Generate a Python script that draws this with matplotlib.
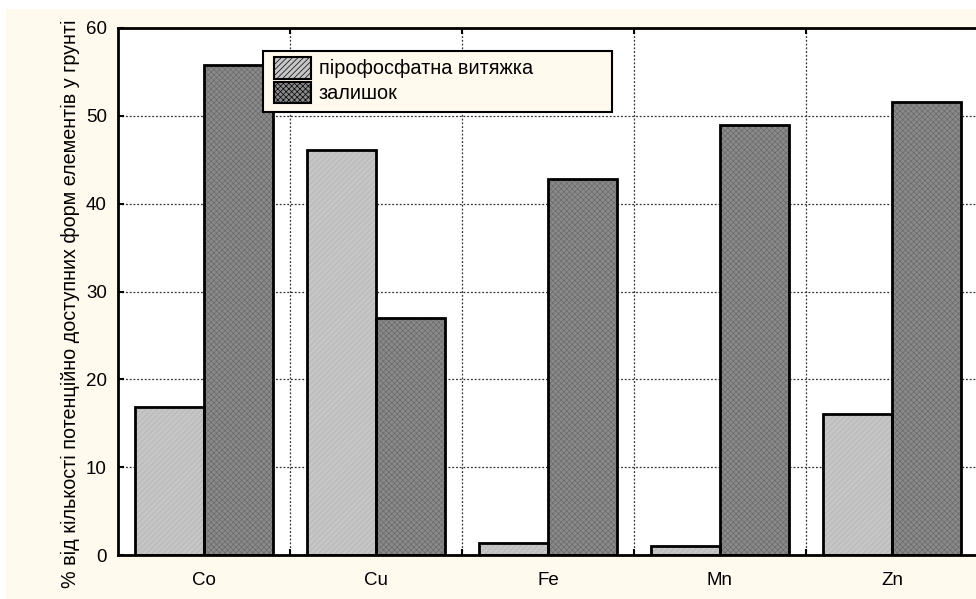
import numpy as np
import matplotlib
matplotlib.use("Agg")
import matplotlib.pyplot as plt
from matplotlib.patches import Rectangle, Patch

plt.rcParams['font.family'] = ['Liberation Sans', 'DejaVu Sans']
plt.rcParams['hatch.linewidth'] = 0.5

elements = ['Co', 'Cu', 'Fe', 'Mn', 'Zn']
pyro = [16.9, 46.1, 1.4, 1.0, 16.0]
residue = [55.8, 27.0, 42.8, 49.0, 51.6]
series_names = ['пірофосфатна витяжка', 'залишок']
ylabel = '% від кількості потенційно доступних форм елементів у грунті'

cream = '#fff9ee'
W, H = 976, 599
fig = plt.figure(figsize=(W / 100, H / 100), dpi=100, facecolor='white')
fig.patches.append(Rectangle((6 / W, 0), 1, (H - 9) / H, transform=fig.transFigure,
                             facecolor=cream, edgecolor='none', zorder=-10))

ax = fig.add_axes([118 / W, (H - 555) / H, (978 - 118) / W, (555 - 28) / H])
ax.set_facecolor('white')

x = np.arange(len(elements))
w = 0.4
styles = [
    dict(face='#c6c6c6', hatch='//////', hcol='#b2b2b2'),
    dict(face='#8a8a8a', hatch='xxxxxx', hcol='#6a6a6a'),
]
for vals, off, st in [(pyro, -w / 2, styles[0]), (residue, w / 2, styles[1])]:
    ax.bar(x + off, vals, w, color=st['face'], hatch=st['hatch'],
           edgecolor=st['hcol'], linewidth=0, zorder=2)
    ax.bar(x + off, vals, w, color='none', edgecolor='black', linewidth=2, zorder=3)

ax.set_xlim(-0.5, len(elements) - 0.5)
ax.set_ylim(0, 60)
ax.set_yticks(range(0, 61, 10))
ax.set_xticks(x)
ax.set_xticklabels(elements)
ax.set_xticks(x[:-1] + 0.5, minor=True)
ax.tick_params(axis='x', which='major', length=0, labelsize=13.5, pad=12)
ax.tick_params(axis='x', which='minor', direction='in', length=4, width=1.5,
               top=True, bottom=True)
ax.tick_params(axis='y', direction='in', length=4, width=1.5, labelsize=13.5, pad=8)
ax.grid(True, axis='y', which='major', linestyle=(0, (1.5, 1.5)), color='#333333',
        linewidth=0.9, zorder=1)
ax.grid(True, axis='x', which='minor', linestyle=(0, (1.5, 1.5)), color='#333333',
        linewidth=0.9, zorder=1)
ax.set_axisbelow(True)
for s in ax.spines.values():
    s.set_linewidth(2)

fig.text(70 / W, 1 - 304 / H, ylabel, rotation=90, ha='center', va='center', fontsize=14.2)

# legend frame drawn separately so it can be wider than its contents
def px(xp, yp):
    return ((xp - 118) / 860, 1 - (yp - 28) / 527)

x0, y0 = px(263, 112)
x1, y1 = px(612, 51)
ax.add_patch(Rectangle((x0, y0), x1 - x0, y1 - y0, transform=ax.transAxes,
                       facecolor=cream, edgecolor='black', linewidth=1.5, zorder=5))
handles = [Patch(facecolor=st['face'], edgecolor='black', hatch=st['hatch'], linewidth=1.5)
           for st in styles]
leg = ax.legend(handles, series_names, loc='upper left', bbox_to_anchor=px(274, 57),
                frameon=False, fontsize=14.3, handlelength=1.85, handleheight=1.3,
                borderpad=0, labelspacing=0.15, handletextpad=0.4, borderaxespad=0)
leg.set_zorder(6)

fig.savefig('out.png', dpi=100, facecolor=fig.get_facecolor())
